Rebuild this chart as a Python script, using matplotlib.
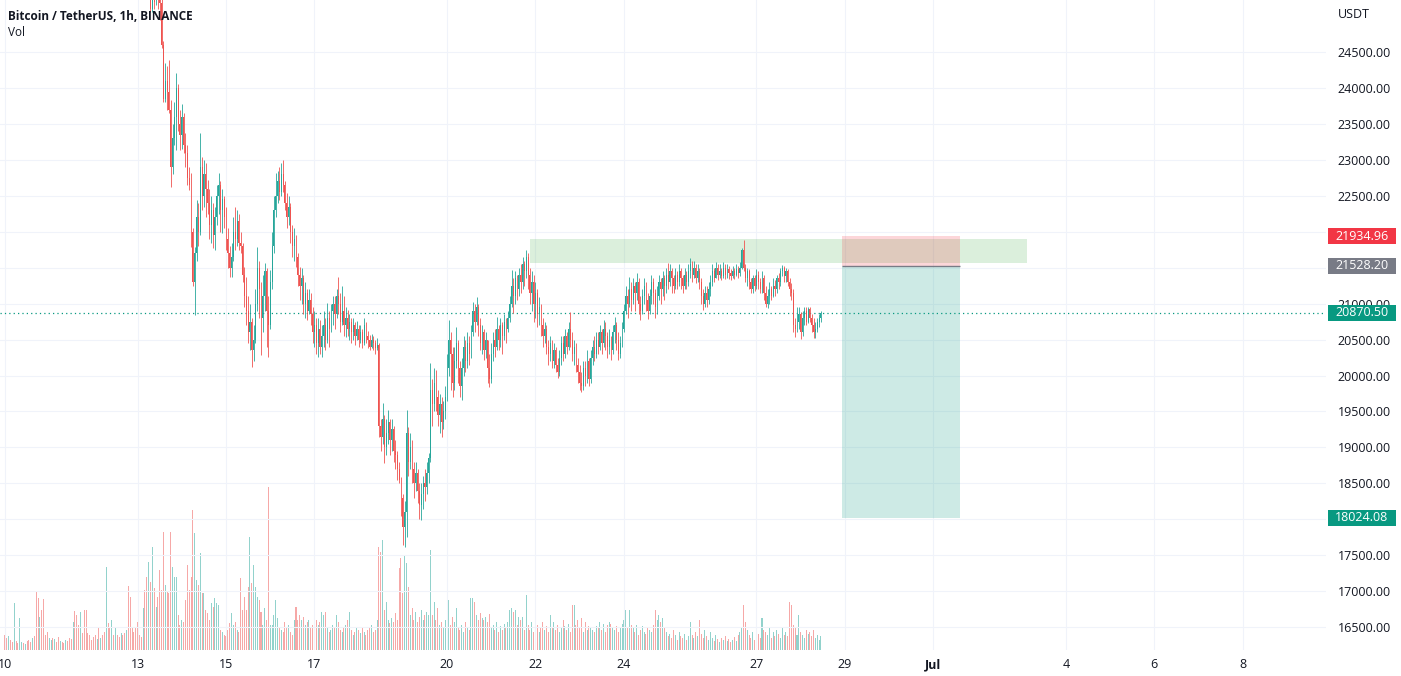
import matplotlib
matplotlib.use("Agg")
import matplotlib.pyplot as plt
import matplotlib.transforms as mtransforms
from matplotlib.patches import Rectangle
import numpy as np

plt.rcParams['font.family'] = ['Open Sans', 'DejaVu Sans']

# ---------- hourly BTC/USDT candles, starting 10 Jun 00:00 ----------
first_open = 30150

close = [
    # Jun 10
    30100, 30050, 30150, 30080, 29950, 30000, 29900, 29850, 29950, 30020, 29980, 30050,
    29900, 29800, 29700, 29750, 29650, 29500, 29400, 29450, 29300, 29250, 29150, 29100,
    # Jun 11
    29150, 29200, 29100, 29150, 29050, 29000, 29100, 29050, 28950, 29000, 28900, 28850,
    28800, 28900, 28850, 28750, 28700, 28800, 28650, 28600, 28500, 28450, 28400, 28350,
    # Jun 12
    28300, 28200, 28250, 28100, 28150, 28050, 27900, 27950, 27800, 27700, 27750, 27600,
    27650, 27500, 27400, 27450, 27300, 27200, 27250, 27100, 27000, 26900, 26800, 26600,
    # Jun 13
    26300, 26100, 25800, 25900, 25700, 25500, 25600, 25100, 25300, 25200, 25350, 25250,
    25180, 24600, 23850, 24100, 23950, 23700, 22900, 23300, 23600, 24000, 23500, 23350,
    # Jun 14
    23600, 23200, 23100, 22750, 22650, 22000, 21300, 21700, 22200, 22000, 22900, 22500,
    22800, 22600, 22400, 22100, 22300, 21950, 22200, 22500, 22650, 22300, 22450, 22200,
    # Jun 15
    21900, 21700, 21500, 21650, 22000, 21900, 22150, 21850, 21800, 21400, 21100, 20900,
    20600, 20750, 20350, 20500, 21000, 21500, 21200, 20800, 21100, 21450, 20900, 20700,
    # Jun 16
    21300, 21800, 22300, 22500, 22700, 22550, 22800, 22650, 22400, 22200, 22350, 22000,
    21800, 21900, 21650, 21400, 21250, 21350, 21000, 21150, 20900, 21050, 20850, 20600,
    # Jun 17
    20700, 20450, 20650, 20400, 20550, 20700, 20500, 20800, 20650, 20900, 21000, 20850,
    21100, 21000, 20750, 20900, 20700, 20800, 20650, 20750, 20600, 20700, 20550, 20650,
    # Jun 18
    20500, 20600, 20450, 20700, 20550, 20500, 20400, 20500, 20450, 20380, 20420, 19300,
    19150, 19400, 19000, 19200, 19350, 19100, 19250, 18950, 18900, 18700, 18550, 18300,
    # Jun 19
    17900, 18100, 19200, 18800, 19000, 18700, 18500, 18650, 18400, 18200, 18350, 18500,
    18450, 18650, 18850, 19800, 19600, 19900, 19700, 19450, 19600, 19350, 19500, 19700,
    # Jun 20
    20100, 20500, 20300, 19900, 20200, 20450, 20100, 19850, 20100, 20400, 20200, 20450,
    20300, 20600, 20900, 20750, 20950, 20700, 20450, 20600, 20350, 20500, 20100, 19950,
    # Jun 21
    20300, 20500, 20400, 20650, 20500, 20700, 20550, 20750, 20650, 20800, 21000, 21250,
    21100, 21350, 21200, 21400, 21300, 21550, 21450, 21650, 21400, 21150, 21300, 21000,
    # Jun 22
    21150, 20850, 20950, 20700, 20550, 20650, 20400, 20300, 20450, 20200, 20350, 20150,
    20050, 20250, 20450, 20300, 20550, 20400, 20650, 20500, 20300, 20400, 20150, 20050,
    # Jun 23
    19900, 19850, 20100, 20000, 20200, 19950, 20250, 20400, 20300, 20500, 20400, 20600,
    20450, 20650, 20550, 20400, 20500, 20350, 20600, 20700, 20500, 20300, 20450, 20650,
    # Jun 24
    20900, 21100, 21000, 21200, 21050, 21250, 21150, 21300, 21000, 20900, 21100, 21250,
    21050, 20900, 21100, 21300, 21150, 20950, 21100, 21300, 21200, 21350, 21250, 21400,
    # Jun 25
    21300, 21450, 21350, 21250, 21400, 21300, 21450, 21350, 21250, 21400, 21300, 21450,
    21550, 21400, 21500, 21350, 21450, 21300, 21100, 21000, 21150, 21050, 21200, 21300,
    # Jun 26
    21450, 21350, 21500, 21400, 21450, 21380, 21500, 21400, 21480, 21420, 21380, 21450,
    21400, 21480, 21420, 21500, 21750, 21500, 21350, 21450, 21300, 21200, 21350, 21250,
    # Jun 27
    21400, 21300, 21200, 21350, 21150, 21000, 21100, 21200, 21100, 21250, 21200, 21350,
    21300, 21450, 21500, 21380, 21450, 21300, 21200, 21150, 20700, 20650, 20750, 20850,
    # Jun 28
    20600, 20800, 20900, 20750, 20920, 20800, 20700, 20600, 20650, 20750, 20800, 20870.5,
]

high = [
    # Jun 10
    30250, 30180, 30230, 30200, 30120, 30090, 30050, 29960, 30010, 30100, 30070, 30120,
    30080, 29950, 29850, 29820, 29790, 29700, 29560, 29520, 29480, 29340, 29290, 29200,
    # Jun 11
    29220, 29280, 29240, 29200, 29180, 29090, 29160, 29140, 29080, 29060, 29040, 28950,
    28900, 28970, 28940, 28900, 28800, 28860, 28830, 28700, 28640, 28560, 28500, 28450,
    # Jun 12
    28420, 28350, 28320, 28290, 28210, 28200, 28100, 28000, 27990, 27860, 27800, 27790,
    27700, 27680, 27560, 27500, 27480, 27350, 27300, 27280, 27150, 27050, 26950, 26850,
    # Jun 13
    26650, 26400, 26200, 26000, 25950, 25800, 25700, 25650, 25450, 25400, 25500, 25450,
    25350, 25250, 24650, 24350, 24300, 24390, 23830, 23500, 23800, 24210, 24050, 23700,
    # Jun 14
    23780, 23650, 23370, 23200, 22900, 22820, 22050, 21790, 22440, 22400, 23370, 23040,
    23000, 22950, 22720, 22600, 22500, 22400, 22350, 22650, 22820, 22700, 22600, 22500,
    # Jun 15
    22340, 22050, 21800, 21850, 22200, 22340, 22300, 22250, 22000, 21850, 21510, 21370,
    21100, 21000, 20800, 20700, 21200, 21790, 21600, 21300, 21400, 21570, 21500, 21100,
    # Jun 16
    21470, 22000, 22500, 22820, 22850, 22900, 22950, 23000, 22700, 22540, 22500, 22400,
    22100, 22050, 21950, 21700, 21510, 21500, 21400, 21300, 21200, 21200, 21150, 20950,
    # Jun 17
    20900, 20800, 20800, 20770, 20700, 20900, 20800, 21010, 20900, 21000, 21100, 21100,
    21200, 21370, 21150, 21250, 21100, 20950, 20910, 20850, 20800, 20800, 20750, 20760,
    # Jun 18
    20700, 20700, 20650, 20800, 20750, 20620, 20560, 20580, 20550, 20500, 20520, 20450,
    19400, 19620, 19450, 19400, 19520, 19400, 19400, 19300, 19100, 18950, 18800, 18590,
    # Jun 19
    18350, 18250, 19520, 19280, 19200, 19100, 18800, 18800, 18700, 18500, 18500, 18600,
    18700, 18800, 18920, 20170, 19950, 20100, 20080, 19800, 19750, 19700, 19650, 19850,
    # Jun 20
    20300, 20770, 20600, 20400, 20400, 20680, 20500, 20200, 20250, 20550, 20500, 20600,
    20550, 20700, 21020, 21000, 21090, 21000, 20800, 20700, 20650, 20600, 20500, 20300,
    # Jun 21
    20450, 20600, 20650, 20810, 20700, 20800, 20750, 20850, 20800, 20900, 21100, 21470,
    21350, 21450, 21400, 21500, 21550, 21650, 21600, 21750, 21700, 21500, 21450, 21400,
    # Jun 22
    21300, 21200, 21090, 21000, 20800, 20750, 20700, 20500, 20550, 20500, 20450, 20400,
    20250, 20350, 20550, 20550, 20650, 20600, 20750, 20880, 20600, 20500, 20450, 20250,
    # Jun 23
    20150, 20050, 20200, 20200, 20350, 20250, 20350, 20500, 20550, 20600, 20600, 20700,
    20650, 20770, 20750, 20600, 20650, 20550, 20700, 20810, 20750, 20600, 20550, 20750,
    # Jun 24
    21000, 21250, 21200, 21370, 21300, 21350, 21300, 21430, 21350, 21100, 21200, 21350,
    21300, 21150, 21200, 21400, 21350, 21200, 21250, 21400, 21350, 21450, 21400, 21500,
    # Jun 25
    21570, 21550, 21500, 21400, 21500, 21450, 21550, 21500, 21400, 21500, 21450, 21550,
    21640, 21600, 21600, 21550, 21550, 21500, 21350, 21200, 21250, 21250, 21300, 21400,
    # Jun 26
    21550, 21500, 21580, 21550, 21550, 21500, 21580, 21550, 21550, 21530, 21480, 21520,
    21500, 21550, 21520, 21580, 21780, 21885, 21550, 21500, 21480, 21350, 21400, 21400,
    # Jun 27
    21480, 21450, 21350, 21450, 21400, 21250, 21200, 21300, 21250, 21350, 21330, 21400,
    21430, 21500, 21540, 21520, 21500, 21480, 21350, 21290, 21200, 20800, 20950, 20950,
    # Jun 28
    20880, 20900, 20950, 20950, 20950, 20950, 20850, 20800, 20750, 20800, 20850, 20900,
]

low = [
    # Jun 10
    30020, 29980, 30000, 29990, 29880, 29900, 29840, 29780, 29800, 29900, 29900, 29930,
    29850, 29720, 29620, 29660, 29600, 29420, 29330, 29350, 29240, 29180, 29080, 29020,
    # Jun 11
    29050, 29100, 29060, 29050, 28990, 28940, 28960, 28990, 28900, 28910, 28850, 28790,
    28720, 28770, 28790, 28700, 28620, 28680, 28600, 28520, 28440, 28380, 28340, 28280,
    # Jun 12
    28240, 28150, 28130, 28050, 28060, 27980, 27850, 27860, 27740, 27640, 27650, 27550,
    27560, 27440, 27350, 27360, 27240, 27140, 27160, 27050, 26940, 26840, 26700, 26500,
    # Jun 13
    26200, 26000, 25600, 25700, 25550, 25400, 25450, 25050, 25050, 25100, 25150, 25100,
    24950, 24550, 23800, 23800, 23700, 23650, 22620, 22800, 23200, 23140, 23400, 23140,
    # Jun 14
    23150, 23100, 22900, 22650, 22580, 21790, 21250, 20840, 21600, 21800, 21950, 22300,
    22350, 22200, 22250, 21900, 21850, 21780, 21750, 22100, 22250, 22000, 21980, 22050,
    # Jun 15
    21750, 21500, 21370, 21370, 21600, 21750, 21800, 21750, 21700, 21300, 20950, 20700,
    20450, 20350, 20120, 20200, 20450, 20900, 20800, 20290, 20600, 20900, 20400, 20260,
    # Jun 16
    20650, 21200, 21700, 22200, 22400, 22440, 22500, 22550, 22300, 22050, 22100, 21850,
    21650, 21600, 21510, 21250, 21050, 21000, 20850, 20800, 20770, 20850, 20700, 20450,
    # Jun 17
    20400, 20300, 20260, 20300, 20260, 20400, 20350, 20450, 20400, 20600, 20700, 20650,
    20800, 20850, 20600, 20700, 20550, 20540, 20550, 20500, 20450, 20500, 20430, 20500,
    # Jun 18
    20400, 20450, 20380, 20420, 20450, 20380, 20355, 20380, 20360, 20300, 20350, 19150,
    18950, 19050, 18780, 18900, 19050, 18900, 18950, 18800, 18700, 18550, 18510, 18050,
    # Jun 19
    17650, 17620, 17750, 18600, 18700, 18500, 18300, 18400, 18230, 18000, 17990, 18150,
    18250, 18350, 18500, 18800, 19300, 19500, 19500, 19300, 19200, 19150, 19250, 19400,
    # Jun 20
    19650, 20000, 19800, 19700, 19800, 20100, 19900, 19700, 19660, 20000, 20050, 20100,
    20150, 20250, 20550, 20600, 20700, 20550, 20350, 20300, 20220, 20250, 19900, 19840,
    # Jun 21
    19900, 20200, 20260, 20350, 20350, 20400, 20300, 20500, 20450, 20600, 20750, 20950,
    20870, 21000, 21050, 21100, 21150, 21200, 21250, 21350, 21200, 21000, 20900, 20750,
    # Jun 22
    20800, 20680, 20700, 20550, 20400, 20450, 20300, 20150, 20200, 20100, 20100, 20050,
    19965, 20000, 20150, 20200, 20250, 20300, 20350, 20400, 20200, 20150, 20050, 19900,
    # Jun 23
    19800, 19770, 19800, 19850, 19900, 19850, 19900, 20150, 20200, 20250, 20300, 20350,
    20300, 20400, 20350, 20250, 20300, 20220, 20300, 20450, 20350, 20220, 20250, 20400,
    # Jun 24
    20600, 20850, 20800, 20950, 20900, 21000, 20900, 21050, 20850, 20770, 20850, 21000,
    20900, 20780, 20850, 21000, 21000, 20800, 20850, 21050, 21000, 21100, 21050, 21150,
    # Jun 25
    21200, 21250, 21150, 21150, 21200, 21200, 21250, 21200, 21150, 21200, 21200, 21250,
    21350, 21300, 21350, 21290, 21300, 21200, 21000, 20910, 20950, 20950, 21000, 21100,
    # Jun 26
    21250, 21300, 21350, 21330, 21350, 21330, 21350, 21340, 21360, 21340, 21330, 21350,
    21340, 21380, 21350, 21380, 21480, 21450, 21300, 21250, 21200, 21150, 21150, 21180,
    # Jun 27
    21200, 21200, 21150, 21150, 21050, 20950, 20940, 21000, 21050, 21090, 21100, 21150,
    21200, 21250, 21380, 21300, 21300, 21250, 21100, 21050, 20600, 20540, 20600, 20650,
    # Jun 28
    20510, 20550, 20700, 20700, 20730, 20750, 20600, 20520, 20520, 20600, 20680, 20750,
]

# hourly volume (x100 BTC)
volume = [
    15, 12, 14, 10, 8, 47, 9, 7, 32, 8, 7, 6, 9, 10, 8, 12, 14, 58, 52, 33, 40, 51, 15, 18,
    12, 10, 12, 11, 8, 13, 9, 8, 7, 10, 9, 12, 11, 28, 39, 35, 25, 38, 17, 40, 40, 17, 15, 10,
    13, 15, 11, 22, 12, 15, 18, 83, 27, 22, 30, 15, 22, 15, 13, 17, 15, 17, 20, 64, 53, 22, 18, 22,
    28, 15, 13, 42, 60, 73, 88, 68, 103, 62, 43, 53, 80, 60, 118, 65, 58, 57, 118, 83, 73, 73, 35, 25,
    30, 28, 50, 85, 60, 73, 140, 117, 70, 65, 97, 57, 57, 40, 37, 30, 47, 43, 52, 47, 45, 20, 18, 15,
    14, 20, 27, 37, 25, 28, 20, 18, 72, 40, 53, 40, 63, 113, 67, 85, 63, 53, 50, 38, 25, 42, 30, 163,
    25, 25, 35, 50, 32, 22, 20, 18, 28, 22, 25, 18, 15, 30, 43, 30, 35, 30, 33, 25, 28, 30, 22, 25,
    22, 30, 25, 28, 38, 35, 38, 22, 18, 20, 25, 22, 35, 28, 20, 18, 22, 25, 30, 38, 20, 15, 18, 22,
    20, 17, 22, 18, 15, 20, 23, 25, 18, 20, 30, 103, 98, 110, 40, 48, 30, 27, 32, 28, 37, 30, 82, 92,
    57, 95, 87, 63, 35, 42, 30, 38, 28, 33, 40, 30, 35, 38, 35, 100, 35, 48, 30, 42, 25, 28, 22, 30,
    50, 50, 25, 33, 28, 42, 22, 20, 25, 18, 28, 22, 20, 52, 52, 48, 35, 30, 37, 32, 30, 33, 28, 36,
    22, 25, 20, 28, 18, 24, 20, 26, 22, 28, 40, 42, 38, 40, 25, 33, 30, 33, 20, 55, 25, 20, 28, 18,
    22, 25, 18, 22, 28, 20, 24, 18, 35, 22, 28, 20, 25, 18, 22, 30, 24, 20, 26, 18, 45, 45, 25, 30,
    22, 32, 18, 28, 20, 24, 22, 20, 18, 24, 22, 28, 20, 26, 18, 25, 28, 26, 22, 20, 24, 18, 22, 26,
    30, 40, 22, 40, 25, 22, 18, 25, 15, 20, 24, 18, 16, 22, 20, 18, 25, 40, 30, 35, 28, 32, 22, 18,
    14, 16, 12, 20, 15, 10, 18, 14, 12, 16, 10, 14, 28, 15, 12, 18, 14, 30, 16, 12, 20, 14, 10, 18,
    12, 9, 15, 11, 8, 12, 10, 14, 9, 11, 8, 10, 13, 9, 15, 18, 22, 45, 28, 20, 15, 12, 18, 10,
    14, 16, 12, 32, 20, 18, 15, 22, 12, 18, 14, 20, 16, 12, 23, 15, 18, 14, 48, 45, 25, 22, 15, 35,
    18, 15, 12, 20, 16, 18, 14, 20, 12, 15, 10, 14,
]

# date axis (day offset from Jun 10)
day_ticks = [0, 3, 5, 7, 10, 12, 14, 17, 19, 21, 24, 26, 28]
day_labels = ['10', '13', '15', '17', '20', '22', '24', '27', '29', 'Jul', '4', '6', '8']
price_ticks = list(range(16500, 25000, 500))

# drawings on the chart
last_price = 20870.5
entry = 21528.20
stop = 21934.96
target = 18024.08
pos_start, pos_end = 454.5, 518.5          # hours from Jun 10
zone_low, zone_high = 21560, 21905
zone_start, zone_end = 285, 555

UP, DOWN = '#26a69a', '#ef5350'

# ---------- figure ----------
W, H = 1401, 676
fig = plt.figure(figsize=(W / 100, H / 100), dpi=100, facecolor='white')
rect = [0, 26 / H, 1326 / W, 650 / H]
ax_v = fig.add_axes(rect)
ax = fig.add_axes(rect)
ax_v.set_zorder(0)
ax.set_zorder(1)
ax.patch.set_visible(False)

close = np.array(close, dtype=float)
high = np.array(high, dtype=float)
low = np.array(low, dtype=float)
opn = np.concatenate([[first_open], close[:-1]])
t = np.arange(len(close))
up = close >= opn
colors = np.where(up, UP, DOWN)

# volume pane
vt = np.arange(len(volume))
ax_v.bar(vt, volume, width=0.55, color=colors[:len(volume)], alpha=0.5, linewidth=0)
ax_v.set_ylim(0, max(volume) * 650 / 163)
ax_v.set_xlim(-2.7, 717.2)
ax_v.axis('off')

# candles
ax.vlines(t, np.minimum(low, np.minimum(opn, close)), np.maximum(high, np.maximum(opn, close)),
          colors=colors, linewidth=0.6, zorder=3)
ax.bar(t, np.abs(close - opn), bottom=np.minimum(opn, close), width=0.5,
       color=colors, linewidth=0, zorder=3)

# drawings
ax.add_patch(Rectangle((zone_start, zone_low), zone_end - zone_start, zone_high - zone_low,
                       facecolor=(76 / 255, 175 / 255, 80 / 255, 0.2), edgecolor='none', zorder=2))
ax.add_patch(Rectangle((pos_start, entry), pos_end - pos_start, stop - entry,
                       facecolor=(242 / 255, 54 / 255, 69 / 255, 0.2), edgecolor='none', zorder=2))
ax.add_patch(Rectangle((pos_start, target), pos_end - pos_start, entry - target,
                       facecolor=(8 / 255, 153 / 255, 129 / 255, 0.2), edgecolor='none', zorder=2))
ax.hlines(entry, pos_start, pos_end, color='#787b86', linewidth=1, zorder=2.5)
ax.axhline(last_price, color='#089981', linewidth=0.9, linestyle=(0, (1, 2.5)), zorder=2.5)

# axes styling
ax.set_xlim(-2.7, 717.2)
ax.set_ylim(16183, 25223)
for s in ax.spines.values():
    s.set_visible(False)
ax.set_axisbelow(True)
ax.grid(True, color='#f0f3fa', linewidth=0.8)

ax.set_xticks([d * 24 for d in day_ticks])
ax.set_xticklabels(day_labels, fontsize=9, color='#131722')
for lbl in ax.get_xticklabels():
    if lbl.get_text() == 'Jul':
        lbl.set_fontweight('bold')
ax.yaxis.tick_right()
ax.set_yticks(price_ticks)
ax.set_yticklabels([f'{p:.2f}' if p not in (18000, 21500) else '' for p in price_ticks],
                   fontsize=9, color='#131722')
ax.tick_params(axis='x', length=0, pad=6)
ax.tick_params(axis='y', length=0, pad=8.5)

# price labels on the right scale (they cover the nearby scale labels, as on the original)
btrans = mtransforms.blended_transform_factory(fig.transFigure, ax.transData)
for price, col in [(stop, '#f23645'), (entry, '#787b86'), (last_price, '#089981'), (target, '#089981')]:
    ax.add_patch(Rectangle((1328 / W, price - 111), 68 / W, 222, transform=btrans,
                           facecolor=col, edgecolor='none', clip_on=False, zorder=5))
    ax.text(1362 / W, price, f'{price:.2f}', transform=btrans, ha='center', va='center',
            color='white', fontsize=9, clip_on=False, zorder=6)

fig.text(1338 / W, 1 - 14 / H, 'USDT', fontsize=9, color='#131722', va='center')
fig.text(8 / W, 1 - 17 / H, 'Bitcoin / TetherUS, 1h, BINANCE', fontsize=8.5,
         fontweight='bold', color='#131722', va='center')
fig.text(8 / W, 1 - 33 / H, 'Vol', fontsize=8.5, color='#131722', va='center')

fig.savefig('out.png', dpi=100, facecolor='white')
